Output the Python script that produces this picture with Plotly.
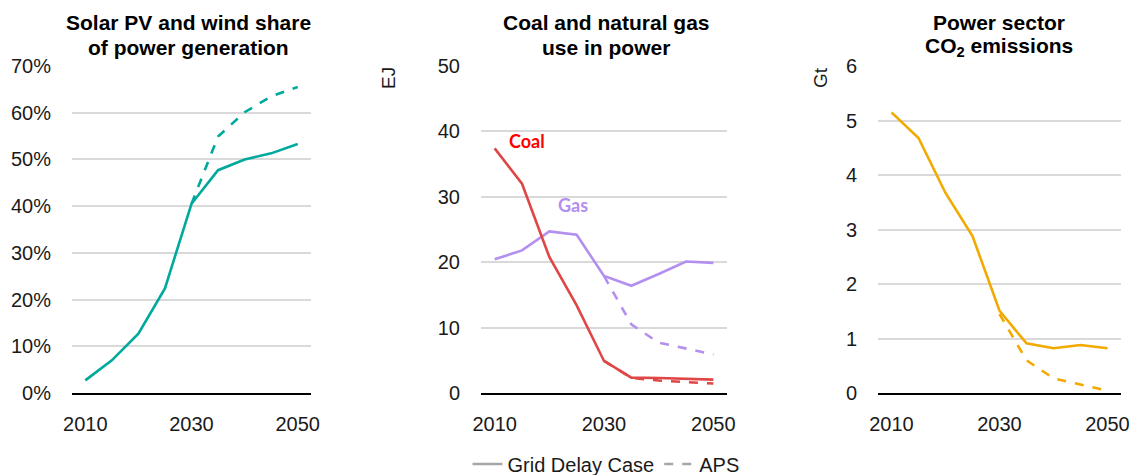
import plotly.graph_objects as go

years = [2010, 2015, 2020, 2025, 2030, 2035, 2040, 2045, 2050]
aps_years = [2030, 2035, 2040, 2045, 2050]

share_gdc = [2.7, 7.0, 12.7, 22.4, 40.5, 47.7, 50.0, 51.3, 53.3]
share_aps = [40.5, 54.9, 60.1, 63.5, 65.5]

coal_gdc = [37.4, 32.0, 20.8, 13.4, 4.9, 2.35, 2.3, 2.2, 2.05]
coal_aps = [4.9, 2.3, 1.9, 1.7, 1.45]
gas_gdc = [20.45, 21.8, 24.7, 24.2, 17.9, 16.4, 18.2, 20.1, 19.9]
gas_aps = [17.9, 10.5, 7.7, 6.8, 5.9]

co2_gdc = [5.15, 4.68, 3.67, 2.88, 1.51, 0.91, 0.82, 0.88, 0.82]
co2_aps = [1.45, 0.6, 0.27, 0.15, 0.04]

W, H = 1134, 475
TEAL = "#00a99d"
RED = "#e04646"
PURPLE = "#b38ff0"
ORANGE = "#f2a900"
FONT = "Liberation Sans, Arial, sans-serif"

def px(x):
    return x / W

def py(y):
    return 1 - y / H

panels = [(72, 311), (481, 727), (878, 1121)]
top, bottom = 66, 393

fig = go.Figure()

def add(x, y, color, dash, ax):
    fig.add_trace(go.Scatter(x=x, y=y, mode="lines", showlegend=False,
                             line=dict(color=color, width=2.6, dash=dash),
                             xaxis="x" + ax, yaxis="y" + ax, hoverinfo="skip"))

add(aps_years, share_aps, TEAL, "dash", "")
add(years, share_gdc, TEAL, "solid", "")
add(aps_years, gas_aps, PURPLE, "dash", "2")
add(years, gas_gdc, PURPLE, "solid", "2")
add(aps_years, coal_aps, RED, "dash", "2")
add(years, coal_gdc, RED, "solid", "2")
add(aps_years, co2_aps, ORANGE, "dash", "3")
add(years, co2_gdc, ORANGE, "solid", "3")

# legend entries
fig.add_trace(go.Scatter(x=[None], y=[None], mode="lines", name="Grid Delay Case",
                         line=dict(color="#a6a6a6", width=2.6)))
fig.add_trace(go.Scatter(x=[None], y=[None], mode="lines", name="APS",
                         line=dict(color="#a6a6a6", width=2.6, dash="dash")))

yranges = [[0, 70], [0, 50], [0, 6]]
ydticks = [10, 10, 1]
layout = {}
for i, ((x0, x1), yr, dt) in enumerate(zip(panels, yranges, ydticks)):
    s = "" if i == 0 else str(i + 1)
    layout["xaxis" + s] = dict(
        domain=[px(x0), px(x1)], range=[2007.5, 2052.5],
        tickvals=[2010, 2030, 2050], showgrid=False, zeroline=False,
        showline=True, linecolor="black", linewidth=1.8,
        ticks="outside", ticklen=12, tickcolor="rgba(0,0,0,0)",
        tickfont=dict(family=FONT, size=20, color="#1a1a1a"),
        anchor="y" + s, fixedrange=True, automargin=False)
    layout["yaxis" + s] = dict(
        domain=[py(bottom), py(top)], range=yr, dtick=dt, tick0=0,
        showgrid=True, gridcolor="#d9d9d9", gridwidth=1.5, zeroline=False,
        showline=False, ticks="outside", ticklen=16, tickcolor="rgba(0,0,0,0)",
        tickfont=dict(family=FONT, size=20, color="#1a1a1a"),
        ticksuffix="%" if i == 0 else "",
        anchor="x" + s, fixedrange=True, automargin=False)

fig.update_layout(**layout)

ann = []
titles = [
    (["Solar PV and wind share", "of power generation"], 188),
    (["Coal and natural gas", "use in power"], 606),
    (["Power sector", "CO<sub>2</sub> emissions"], 999),
]
for lines, cx in titles:
    for ln, yy in zip(lines, [23, 47]):
        ann.append(dict(text="<b>" + ln + "</b>", x=px(cx), y=py(yy), xref="paper", yref="paper",
                        showarrow=False, xanchor="center", yanchor="middle",
                        font=dict(family=FONT, size=21, color="black")))
ann.append(dict(text="EJ", x=px(388), y=py(78), xref="paper", yref="paper", textangle=-90,
                xanchor="center", yanchor="middle",
                showarrow=False, font=dict(family=FONT, size=19, color="#1a1a1a")))
ann.append(dict(text="Gt", x=px(820), y=py(78), xref="paper", yref="paper", textangle=-90,
                xanchor="center", yanchor="middle",
                showarrow=False, font=dict(family=FONT, size=19, color="#1a1a1a")))
ann.append(dict(text="<b>Coal</b>", x=2012.3, y=38.5, xref="x2", yref="y2", xanchor="left",
                showarrow=False, font=dict(family="Lato, sans-serif", size=18, color="#ff0000")))
ann.append(dict(text="<b>Gas</b>", x=2021.3, y=28.8, xref="x2", yref="y2", xanchor="left",
                showarrow=False, font=dict(family="Lato, sans-serif", size=18, color=PURPLE)))

fig.update_layout(
    width=W, height=H, margin=dict(l=0, r=0, t=0, b=0, autoexpand=False),
    paper_bgcolor="white", plot_bgcolor="white",
    annotations=ann,
    legend=dict(orientation="h", x=px(606), y=py(464), xanchor="center", yanchor="middle",
                font=dict(family=FONT, size=20, color="#1a1a1a"),
                bgcolor="rgba(0,0,0,0)"),
)

fig.write_html("out.html", config={"displayModeBar": False},
               post_script="document.body.style.margin='0';document.body.style.overflow='hidden';")
